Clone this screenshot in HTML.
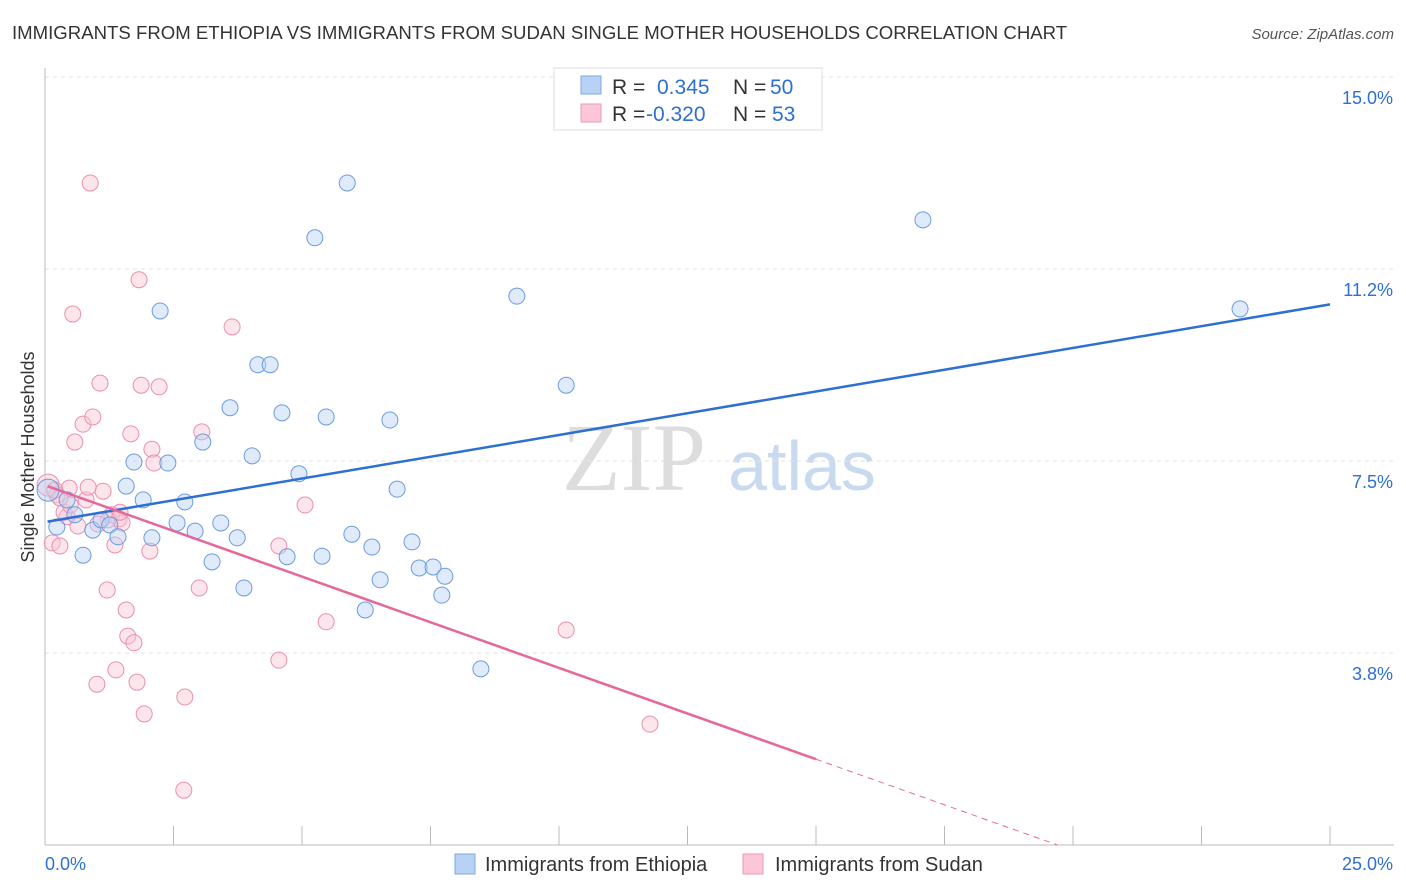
<!DOCTYPE html>
<html><head><meta charset="utf-8"><style>
body{margin:0;background:#fff;font-family:"Liberation Sans",sans-serif}
svg{display:block}
</style></head><body>
<svg id="chart" width="1406" height="892">
<text x="12" y="39" font-size="18.6" fill="#333">IMMIGRANTS FROM ETHIOPIA VS IMMIGRANTS FROM SUDAN SINGLE MOTHER HOUSEHOLDS CORRELATION CHART</text>
<text x="1394" y="39" font-size="15" fill="#555" font-style="italic" text-anchor="end">Source: ZipAtlas.com</text>
<text x="634" y="490" font-size="96" fill="#ddd" font-family="Liberation Serif" text-anchor="middle">ZIP</text>
<text x="802" y="490" font-size="70" fill="#c8daf0" text-anchor="middle">atlas</text>
<g id="grid"></g><g id="marks"></g>
<text x="0" y="0" transform="translate(34,457) rotate(-90)" font-size="18" fill="#333" text-anchor="middle">Single Mother Households</text>
<g>
<rect x="554" y="68" width="268" height="62" fill="#fff" stroke="#ddd"/>
<rect x="581" y="76" width="20" height="18" fill="#b7d2f5" stroke="#7fa8e0"/>
<rect x="581" y="104" width="20" height="18" fill="#fbc6d5" stroke="#ea9ab4"/>
<text x="612" y="94" font-size="21" fill="#333">R = <tspan fill="#2d6fd2" x="657">0.345</tspan><tspan fill="#333" x="733">N = </tspan><tspan fill="#2d6fd2" x="770">50</tspan></text>
<text x="612" y="121" font-size="21" fill="#333">R = <tspan fill="#2d6fd2" x="646">-0.320</tspan><tspan fill="#333" x="733">N = </tspan><tspan fill="#2d6fd2" x="772">53</tspan></text>
</g>
<g>
<rect x="455" y="854" width="20" height="20" fill="#b7d2f5" stroke="#7fa8e0"/>
<text x="485" y="871" font-size="20" fill="#333">Immigrants from Ethiopia</text>
<rect x="743" y="854" width="20" height="20" fill="#fbc6d5" stroke="#ea9ab4"/>
<text x="775" y="871" font-size="20" fill="#333">Immigrants from Sudan</text>
</g>
</svg>
<script>
const blueX=[0.06,0.23,0.43,0.58,0.74,0.93,1.09,1.26,1.42,1.58,1.73,1.91,2.08,2.24,2.39,2.57,2.72,2.92,3.07,3.25,3.42,3.6,3.74,3.87,4.03,4.14,4.38,4.61,4.71,4.94,5.25,5.39,5.47,5.88,5.97,6.23,6.36,6.52,6.71,6.85,7.14,7.28,7.55,7.72,7.78,8.48,9.18,10.14,17.08,23.25];
const blueY=[6.93,6.21,6.74,6.45,5.66,6.15,6.35,6.25,6.02,7.01,7.48,6.74,6.0,10.43,7.46,6.29,6.7,6.13,7.87,5.53,6.29,8.54,6.0,5.02,7.6,9.38,9.38,8.44,5.63,7.25,11.86,5.64,8.36,12.93,6.07,4.59,5.82,5.18,8.3,6.95,5.92,5.41,5.43,4.88,5.25,3.44,10.72,8.98,12.21,10.47];
const pinkX=[0.06,0.14,0.23,0.29,0.43,0.47,0.54,0.58,0.64,0.74,0.8,0.88,0.93,1.01,1.07,1.13,1.21,1.3,1.36,1.38,1.44,1.5,1.58,1.61,1.67,1.73,1.79,1.83,1.87,1.93,2.04,2.08,2.12,2.22,2.72,2.7,3.0,3.05,3.64,4.55,4.55,5.06,5.47,10.14,11.77,0.37,0.49,1.23,1.03,0.19,0.29,1.46,0.84];
const pinkY=[7.03,5.9,6.84,5.84,6.41,6.97,10.37,7.87,6.23,8.22,6.74,12.93,8.36,3.14,9.02,6.91,4.98,6.45,5.86,3.42,6.37,6.29,4.59,4.08,8.03,3.95,3.18,11.04,8.98,2.56,5.74,7.73,7.46,8.95,2.89,1.07,5.02,8.07,10.12,5.84,3.61,6.64,4.36,4.2,2.36,6.5,6.64,6.35,6.27,6.93,6.78,6.5,6.99];
const yTicks=[3.75,7.5,11.25,15.0];
const yTickLabels=["3.8%","7.5%","11.2%","15.0%"];
const xTickLabels=["0.0%","25.0%"];
const NS="http://www.w3.org/2000/svg";
const sx=v=>45+v*51.4, sy=v=>845-v*51.2;
function mk(tag,attrs,parent,txt){const e=document.createElementNS(NS,tag);for(const k in attrs)e.setAttribute(k,attrs[k]);if(txt!==undefined)e.textContent=txt;parent.appendChild(e);return e;}
const grid=document.getElementById('grid'),marks=document.getElementById('marks');
yTicks.forEach((t,i)=>{
 const g=mk('line',{x1:45,x2:1394,y1:sy(t),y2:sy(t),stroke:'#e2e2e2','stroke-dasharray':'4,4'},grid);
 
 
 const l=mk('text',{x:1393,y:sy(t)+27,'font-size':18,fill:'#2d6fd2','text-anchor':'end'},grid,yTickLabels[i]);
 
 
});
const ax=mk('line',{x1:45,x2:45,y1:68,y2:845,stroke:'#bbb'},grid);


const bx=mk('line',{x1:45,x2:1394,y1:845,y2:845,stroke:'#bbb'},grid);


for(let i=0;i<=10;i++){const t=mk('line',{x1:sx(i*2.5),x2:sx(i*2.5),y1:826,y2:845,stroke:'#bbb'},grid);
 
 }
const xl0=mk('text',{x:45,y:870,'font-size':18,fill:'#2d6fd2'},grid,xTickLabels[0]);


const xl1=mk('text',{x:1393,y:870,'font-size':18,fill:'#2d6fd2','text-anchor':'end'},grid,xTickLabels[1]);


function fit(X,Y){const n=X.length;let mx=0,my=0;for(let i=0;i<n;i++){mx+=X[i];my+=Y[i];}mx/=n;my/=n;let sxy=0,sxx=0;for(let i=0;i<n;i++){sxy+=(X[i]-mx)*(Y[i]-my);sxx+=(X[i]-mx)**2;}const b=sxy/sxx;return [my-b*mx,b];}
function dots(X,Y,fill,stroke,name){X.forEach((x,i)=>{const c=mk('circle',{cx:sx(x),cy:sy(Y[i]),r:i===0?11:8,fill:fill,'fill-opacity':0.45,stroke:stroke,'stroke-width':1},marks);
 
 });}
dots(pinkX,pinkY,'#fbc6d5','#ea8fae','sudan-point');
dots(blueX,blueY,'#b7d2f5','#6b9be0','ethiopia-point');
const [ba,bb]=fit(blueX,blueY);
const bl=mk('line',{x1:sx(0.05),y1:sy(ba+bb*0.05),x2:sx(25),y2:sy(ba+bb*25),stroke:'#2d6fd2','stroke-width':2.5},marks);


const [pa,pb]=fit(pinkX,pinkY);
const pl=mk('line',{x1:sx(0.05),y1:sy(pa+pb*0.05),x2:sx(15),y2:sy(pa+pb*15),stroke:'#e4699a','stroke-width':2.5},marks);


const xEnd=Math.min(25,-pa/pb);
const pd=mk('line',{x1:sx(15),y1:sy(pa+pb*15),x2:sx(xEnd),y2:sy(pa+pb*xEnd),stroke:'#e4699a','stroke-width':1,'stroke-dasharray':'6,5'},marks);


</script>
</body></html>
